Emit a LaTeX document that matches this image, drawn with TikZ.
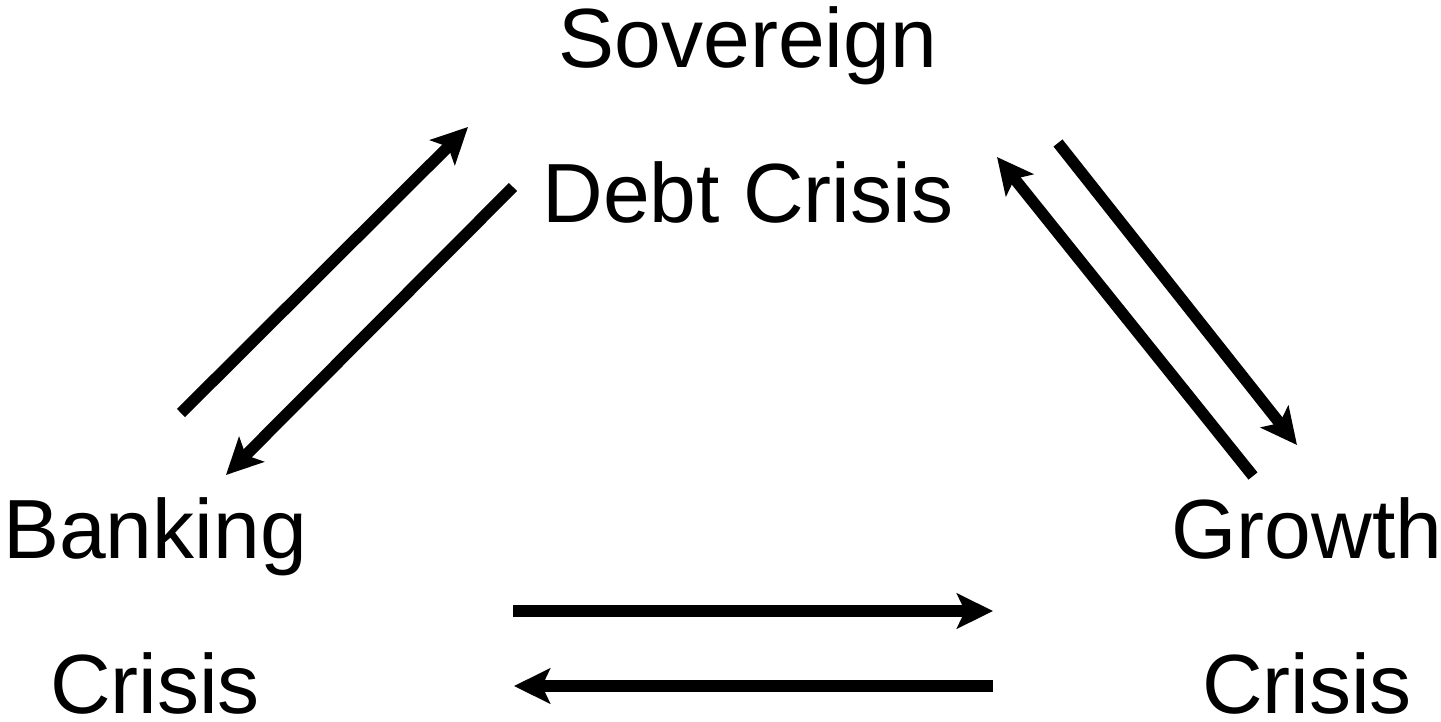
\documentclass[tikz,border=0pt]{standalone}
\usepackage{fontspec}
\setmainfont{Liberation Sans}
\usetikzlibrary{positioning}
\usetikzlibrary{arrows.meta}

\begin{document}
\begin{tikzpicture}[x=1pt,y=-1pt,->,>={Stealth[length=36pt,width=35pt,inset=8pt]},line width=11.5pt,
	crisis node/.style={align=center,inner sep=0pt,anchor=base,font=\fontsize{84}{155}\selectfont}]
	\useasboundingbox (0,0) rectangle (1441,721);

	\node[crisis node] (sov) at (748,222) {Sovereign\\Debt Crisis};
	\node[crisis node] (bank) at (155,713) {Banking\\Crisis};
	\node[crisis node] (grow) at (1307,713) {Growth\\Crisis};

	% arrow ends
	\coordinate (bank-up) at (181,413);
	\coordinate (sov-left-in) at (468,127);
	\coordinate (sov-left-out) at (513,187);
	\coordinate (bank-in) at (226,475);
	\coordinate (grow-up) at (1253,476);
	\coordinate (sov-right-in) at (997,157);
	\coordinate (sov-right-out) at (1058,143);
	\coordinate (grow-in) at (1297,445);
	\coordinate (bank-right) at (513,611);
	\coordinate (grow-left) at (993,611);
	\coordinate (grow-left-out) at (993,686);
	\coordinate (bank-right-in) at (514,686);

	\path
	(bank-up) edge (sov-left-in)
	(sov-left-out) edge (bank-in)
	(grow-up) edge (sov-right-in)
	(sov-right-out) edge (grow-in)
	(bank-right) edge (grow-left)
	(grow-left-out) edge (bank-right-in);
\end{tikzpicture}
\end{document}
